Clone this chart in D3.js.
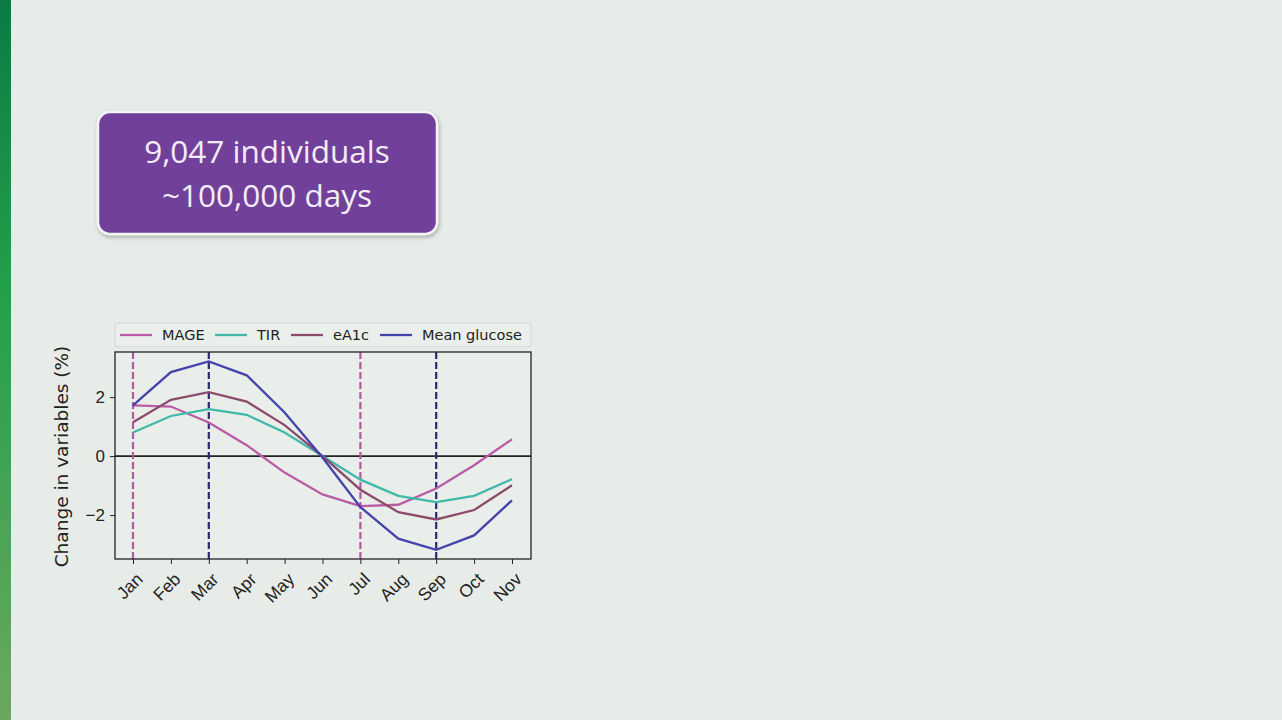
<!DOCTYPE html>
<html lang="en">
<head>
<meta charset="utf-8">
<title>Seasonal change in glucose variables</title>
<script src="https://cdn.jsdelivr.net/npm/d3@7/dist/d3.min.js"></script>
<style>
  html, body { margin: 0; padding: 0; background: #e8ece8; }
  svg { display: block; }
</style>
</head>
<body>
<script>
// data
var months = ["Jan", "Feb", "Mar", "Apr", "May", "Jun", "Jul", "Aug", "Sep", "Oct", "Nov"];
var mage = [1.72, 1.68, 1.14, 0.37, -0.56, -1.3, -1.7, -1.65, -1.1, -0.31, 0.57];
var tir = [0.8, 1.36, 1.59, 1.4, 0.8, 0.0, -0.8, -1.35, -1.56, -1.35, -0.78];
var ea1c = [1.15, 1.91, 2.17, 1.85, 1.05, 0.0, -1.14, -1.9, -2.15, -1.83, -0.99];
var meanGlucose = [1.72, 2.85, 3.21, 2.74, 1.48, -0.05, -1.73, -2.8, -3.18, -2.69, -1.5];
var yTicks = [-2, 0, 2];
var seriesNames = ["MAGE", "TIR", "eA1c", "Mean glucose"];
var seriesColors = ["#b95ba6", "#3fb9a9", "#8c4b6c", "#4443ab"];
var markerMonths = ["Jan", "Mar", "Jul", "Sep"];
var markerColors = ["#b15a9e", "#2b2a72", "#b15a9e", "#2b2a72"];

var w = 1282, h = 720;
var svg = d3.select("body").append("svg").attr("width", w).attr("height", h);
var defs = svg.append("defs");

// green side strip
var grad = defs.append("linearGradient")
  .attr("id", "strip").attr("x1", 0).attr("y1", 0).attr("x2", 0).attr("y2", 1);
grad.append("stop").attr("offset", "0%").attr("stop-color", "#0d7a46");
grad.append("stop").attr("offset", "40%").attr("stop-color", "#23a04a");
grad.append("stop").attr("offset", "100%").attr("stop-color", "#6aa85c");
svg.append("rect").attr("x", 0).attr("y", 0).attr("width", 11).attr("height", h)
  .attr("fill", "url(#strip)");

// purple info box
var shadow = defs.append("filter").attr("id", "shadow")
  .attr("x", "-10%").attr("y", "-10%").attr("width", "120%").attr("height", "130%");
shadow.append("feDropShadow").attr("dx", 1).attr("dy", 2).attr("stdDeviation", 2)
  .attr("flood-color", "#000").attr("flood-opacity", 0.3);
svg.append("rect")
  .attr("x", 98).attr("y", 112).attr("width", 339).attr("height", 122)
  .attr("rx", 12).attr("ry", 12)
  .attr("fill", "#6f409a").attr("stroke", "#f4f4f4").attr("stroke-width", 2.5)
  .attr("filter", "url(#shadow)");
svg.append("text").attr("x", 267).attr("y", 163).attr("text-anchor", "middle")
  .attr("font-family", "Open Sans, Noto Sans, sans-serif").attr("font-size", 31.5)
  .attr("fill", "#f3ecf7").text("9,047 individuals");
svg.append("text").attr("x", 267).attr("y", 207).attr("text-anchor", "middle")
  .attr("font-family", "Open Sans, Noto Sans, sans-serif").attr("font-size", 31.5)
  .attr("fill", "#f3ecf7").text("~100,000 days");

// chart area
var plotLeft = 115, plotRight = 531, plotTop = 352, plotBottom = 559;

var xScale = d3.scalePoint().domain(months).range([133, 512]);
var yScale = d3.scaleLinear().domain([-3.49, 3.53]).range([plotBottom, plotTop]);

var g = svg.append("g").attr("font-family", "DejaVu Sans, sans-serif");

g.append("rect").attr("x", plotLeft).attr("y", plotTop)
  .attr("width", plotRight - plotLeft).attr("height", plotBottom - plotTop)
  .attr("fill", "#eaeeea");

// zero line
g.append("line").attr("x1", plotLeft).attr("x2", plotRight)
  .attr("y1", yScale(0)).attr("y2", yScale(0))
  .attr("stroke", "#222").attr("stroke-width", 1.6);

// vertical dashed markers
g.selectAll(".marker").data(markerMonths).enter().append("line")
  .attr("class", "marker")
  .attr("x1", function(d) { return xScale(d); })
  .attr("x2", function(d) { return xScale(d); })
  .attr("y1", plotTop).attr("y2", plotBottom)
  .attr("stroke", function(d, i) { return markerColors[i]; })
  .attr("stroke-width", 2.2)
  .attr("stroke-dasharray", "7,3");

// series lines
var allSeries = [mage, tir, ea1c, meanGlucose];
var line = d3.line()
  .x(function(d, i) { return xScale(months[i]); })
  .y(function(d) { return yScale(d); });
g.selectAll(".series").data(allSeries).enter().append("path")
  .attr("class", "series")
  .attr("d", line)
  .attr("fill", "none")
  .attr("stroke", function(d, i) { return seriesColors[i]; })
  .attr("stroke-width", 2.3);

// axes
var xAxis = d3.axisBottom(xScale).tickSize(5).tickPadding(4);
var yAxis = d3.axisLeft(yScale).tickValues(yTicks).tickSize(5).tickPadding(5)
  .tickFormat(function(d) { return d < 0 ? "\u2212" + Math.abs(d) : d; });

var gx = g.append("g").attr("transform", "translate(0," + plotBottom + ")").call(xAxis);
gx.select(".domain").remove();
gx.selectAll("line").attr("stroke", "#222");
gx.selectAll("text")
  .attr("font-size", 17.5).attr("fill", "#222")
  .attr("text-anchor", "end")
  .attr("x", 0).attr("y", 0).attr("dy", "0.35em")
  .attr("transform", "translate(6,17) rotate(-45)");

var gy = g.append("g").attr("transform", "translate(" + plotLeft + ",0)").call(yAxis);
gy.select(".domain").remove();
gy.selectAll("line").attr("stroke", "#222");
gy.selectAll("text").attr("font-size", 17).attr("fill", "#222");

// frame
g.append("rect").attr("x", plotLeft).attr("y", plotTop)
  .attr("width", plotRight - plotLeft).attr("height", plotBottom - plotTop)
  .attr("fill", "none").attr("stroke", "#222").attr("stroke-width", 1.3);

// y label
g.append("text")
  .attr("transform", "translate(68," + ((plotTop + plotBottom) / 2 + 1) + ") rotate(-90)")
  .attr("text-anchor", "middle")
  .attr("font-size", 18.5).attr("fill", "#222")
  .text("Change in variables (%)");

// legend
var legend = g.append("g");
legend.append("rect").attr("x", 115).attr("y", 323).attr("width", 416).attr("height", 24)
  .attr("rx", 3).attr("fill", "#ebefeb").attr("stroke", "#d4d8d4");
var legendX = [120, 215, 291, 380];
var item = legend.selectAll(".item").data(seriesNames).enter().append("g")
  .attr("class", "item")
  .attr("transform", function(d, i) { return "translate(" + legendX[i] + ",335)"; });
item.append("line").attr("x1", 0).attr("x2", 32).attr("y1", 0).attr("y2", 0)
  .attr("stroke", function(d, i) { return seriesColors[i]; }).attr("stroke-width", 2.3);
item.append("text").attr("x", 42).attr("dy", "0.35em")
  .attr("font-size", 14.5).attr("fill", "#222")
  .text(function(d) { return d; });
</script>
</body>
</html>
